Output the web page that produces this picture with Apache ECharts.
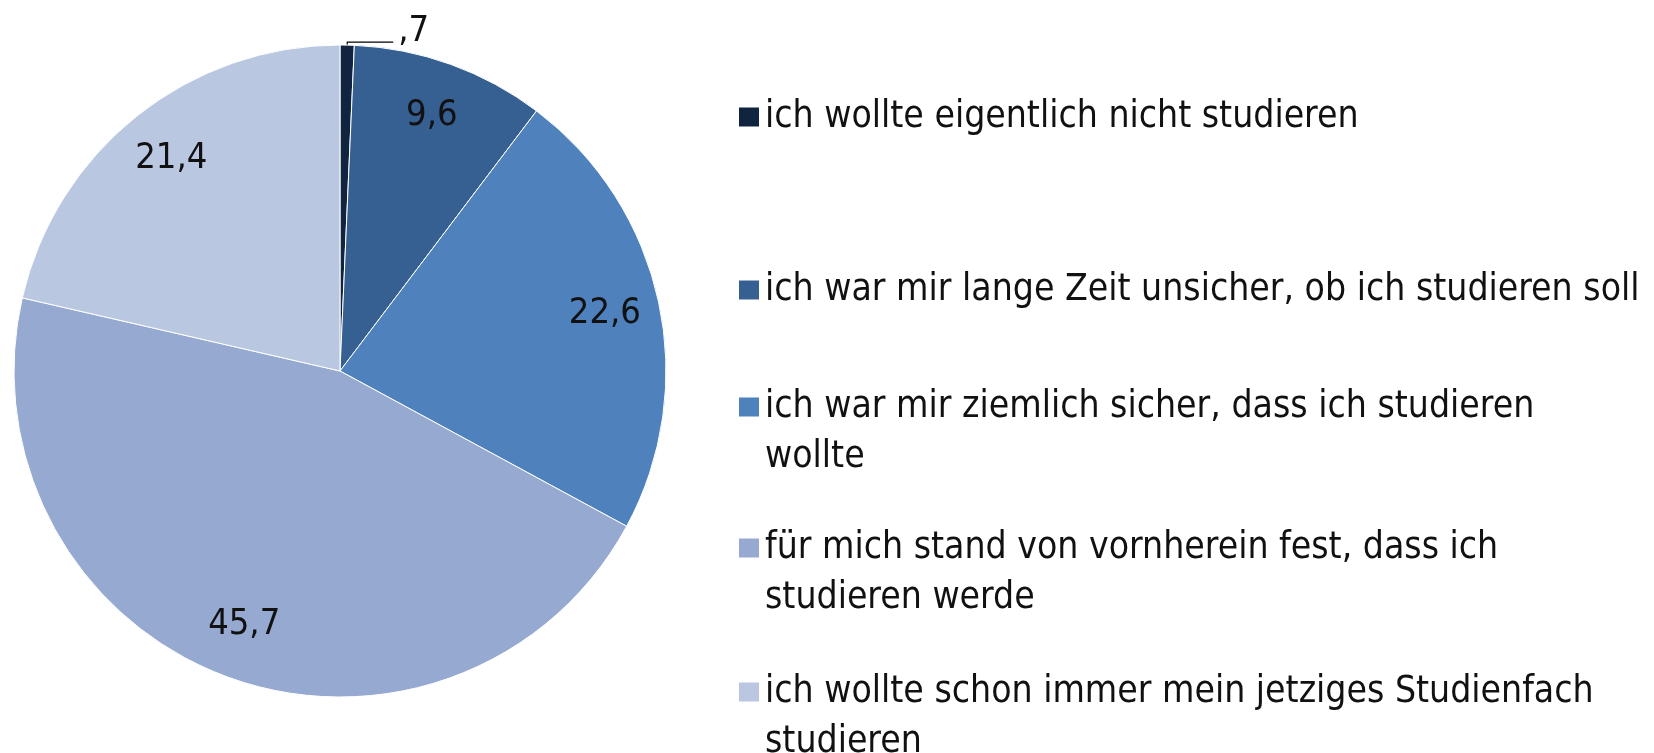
<!DOCTYPE html>
<html>
<head>
<meta charset="utf-8">
<script src="https://cdn.jsdelivr.net/npm/echarts@6/dist/echarts.min.js"></script>
<style>
  html, body { margin: 0; padding: 0; background: #fff; }
  #chart { width: 1654px; height: 753px; }
</style>
</head>
<body>
<div id="chart"></div>
<script>
// Anteile in Prozent
const categories = [
  'ich wollte eigentlich nicht studieren',
  'ich war mir lange Zeit unsicher, ob ich studieren soll',
  'ich war mir ziemlich sicher, dass ich studieren\nwollte',
  'für mich stand von vornherein fest, dass ich\nstudieren werde',
  'ich wollte schon immer mein jetziges Studienfach\nstudieren'
];
const values = [0.7, 9.6, 22.6, 45.7, 21.4];
const colors = ['#10243f', '#376092', '#4f81bd', '#95a9d1', '#b9c7e1'];

const FONT = "'Liberation Sans Narrow', 'DejaVu Sans Condensed', 'Open Sans', sans-serif";

const chart = echarts.init(document.getElementById('chart'));

// 0.7 -> ",7", 22.6 -> "22,6"
function fmt(v) {
  let s = String(v).replace('.', ',');
  if (s.indexOf('0,') === 0) s = s.slice(1);
  return s;
}

const pieData = categories.map((name, i) => ({
  name: name,
  value: values[i],
  itemStyle: {color: colors[i]}
}));

// label ring: inside labels sit at (r0 + r) / 2
const labelData = categories.map((name, i) => {
  const d = {name: name, value: values[i]};
  if (i === 0) {
    d.label = {position: 'outside'};
    d.labelLine = {show: true, length: 3, length2: 46, lineStyle: {color: '#000', width: 1.2}};
  }
  return d;
});

// one legend per entry so the spacing matches the original
const legendTops = [92, 265, 332, 473, 617];
const legends = categories.map((name, i) => ({
  data: [name],
  orient: 'vertical',
  left: 737,
  top: legendTops[i],
  padding: 0,
  itemWidth: 22,
  itemHeight: 21,
  itemGap: 0,
  icon: 'rect',
  selectedMode: false,
  // blank first line keeps the marker next to the first text line
  formatter: n => (n.indexOf('\n') >= 0 ? '\n' + n : n),
  textStyle: {
    fontFamily: FONT,
    fontSize: 37,
    lineHeight: 50,
    color: '#111'
  }
}));

const option = {
  animation: false,
  color: colors,
  legend: legends,
  series: [
    {
      type: 'pie',
      center: [340, 371],
      radius: 326,
      startAngle: 90,
      clockwise: true,
      silent: true,
      label: {show: false},
      labelLine: {show: false},
      itemStyle: {borderColor: '#fff', borderWidth: 1},
      data: pieData
    },
    {
      type: 'pie',
      center: [340, 371],
      radius: [210, 326],
      startAngle: 90,
      clockwise: true,
      silent: true,
      avoidLabelOverlap: false,
      legendHoverLink: false,
      itemStyle: {color: 'rgba(0,0,0,0)'},
      label: {
        show: true,
        position: 'inside',
        fontFamily: FONT,
        fontSize: 36,
        color: '#111',
        formatter: p => fmt(p.value)
      },
      // lift the small outside label above its leader line
      labelLayout: p => (p.dataIndex === 0 ? {dy: -10} : {}),
      labelLine: {show: false},
      data: labelData
    }
  ]
};

chart.setOption(option);
</script>
</body>
</html>
